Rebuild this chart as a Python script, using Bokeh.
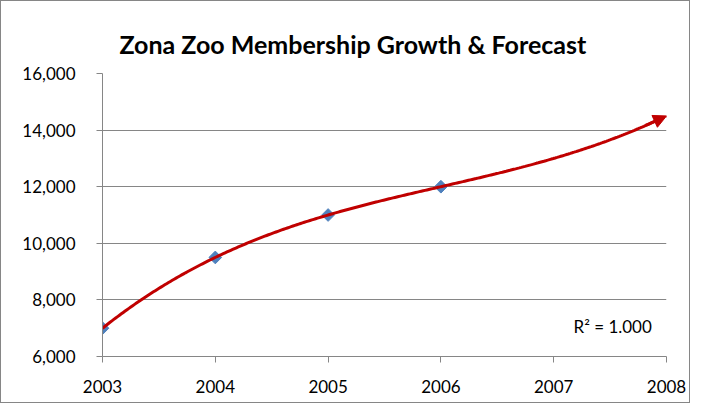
import numpy as np
from bokeh.plotting import figure
from bokeh.models import Range1d, FixedTicker, NumeralTickFormatter, Label, Arrow, NormalHead
from bokeh.embed import file_html
from bokeh.resources import INLINE

title_text = "Zona Zoo Membership Growth & Forecast"
years = [2003, 2004, 2005, 2006]
members = [7000, 9500, 11000, 12000]
x_ticks = [2003, 2004, 2005, 2006, 2007, 2008]
y_ticks = [6000, 8000, 10000, 12000, 14000, 16000]
trend_order = 3
forecast_end = 2008
r2_text = "R\u00b2 = 1.000"

FONT = "Lato"
GRAY = "#868686"
RED = "#C00000"
BLUE = "#4F81BD"

p = figure(width=690, height=403, output_backend="svg", toolbar_location=None,
           x_range=Range1d(x_ticks[0], x_ticks[-1]), y_range=Range1d(y_ticks[0], y_ticks[-1]),
           min_border_left=101, min_border_right=25, min_border_top=72, min_border_bottom=48)
p.styles = {"border": "1px solid #868686", "box-sizing": "border-box"}

p.title.text = title_text
p.title.align = "left"
p.title.offset = 17
p.title.text_font = FONT
p.title.text_font_size = "25px"
p.title.text_font_style = "bold"
p.title.text_color = "black"
p.title.standoff = 29

p.outline_line_color = None
p.xgrid.grid_line_color = None
p.ygrid.grid_line_color = GRAY
p.ygrid.grid_line_width = 1

for ax in (p.xaxis[0], p.yaxis[0]):
    ax.axis_line_color = GRAY
    ax.major_tick_line_color = GRAY
    ax.major_tick_in = 0
    ax.major_tick_out = 6
    ax.minor_tick_line_color = None
    ax.major_label_text_font = FONT
    ax.major_label_text_font_size = "17px"
    ax.major_label_text_color = "black"

p.xaxis.ticker = FixedTicker(ticks=x_ticks)
p.yaxis.ticker = FixedTicker(ticks=y_ticks)
p.yaxis.formatter = NumeralTickFormatter(format="0,0")
p.xaxis.major_label_standoff = 17
p.yaxis.major_label_standoff = 21

# polynomial trendline (Excel-style, order 3) fitted to the data
x0 = years[0]
coef = np.polyfit(np.array(years) - x0, np.array(members), trend_order)
tx = np.linspace(years[0], forecast_end, 300)
ty = np.polyval(coef, tx - x0)

p.scatter(years, members, marker="square", angle=np.pi / 4, size=9, fill_color=BLUE, line_color=BLUE)
p.line(tx[:-4], ty[:-4], line_color=RED, line_width=3)
p.add_layout(Arrow(end=NormalHead(size=13, fill_color=RED, line_color=RED),
                   x_start=tx[-12], y_start=ty[-12], x_end=tx[-1], y_end=ty[-1],
                   line_color=RED, line_width=3))

p.add_layout(Label(x=2007.87, y=7050, text=r2_text, text_align="right", text_baseline="middle",
                   text_font=FONT, text_font_size="17px", text_color="black"))

open("out.html", "w").write(file_html(p, INLINE))
